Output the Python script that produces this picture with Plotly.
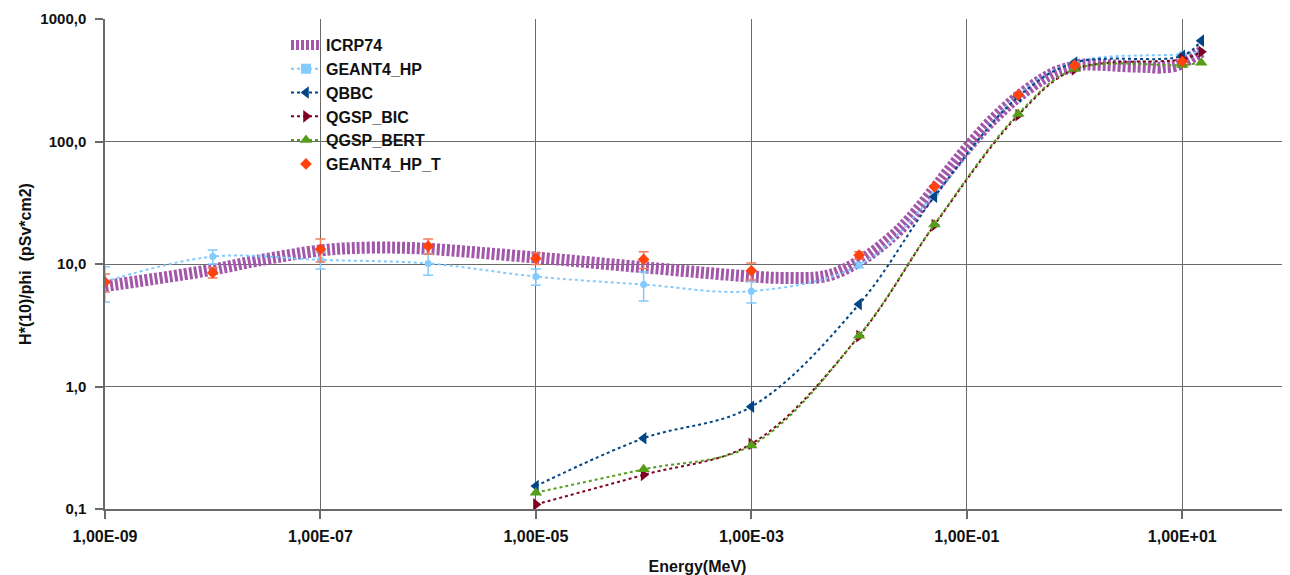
import plotly.graph_objects as go

# ---------------- data ----------------
icrp_E = [1e-9, 1e-8, 2.53e-8, 1e-7, 2e-7, 5e-7, 1e-6, 1e-5, 1e-4, 1e-3, 2e-3, 5e-3,
          1e-2, 2e-2, 3e-2, 5e-2, 7e-2, 0.1, 0.15, 0.2, 0.3, 0.5, 0.7, 0.9, 1.0, 1.2,
          2.0, 3.0, 4.0, 5.0, 6.0, 7.0, 8.0, 9.0, 10.0, 12.0, 14.0, 15.0]
icrp_H = [6.6, 9.0, 10.6, 12.9, 13.5, 13.6, 13.3, 11.3, 9.4, 7.9, 7.7, 8.0,
          10.5, 16.6, 23.7, 41.1, 60.0, 88.0, 132, 170, 233, 322, 375, 400, 416, 425,
          420, 412, 408, 405, 400, 405, 409, 420, 440, 480, 520, 540]

hp_E = [1e-9, 1e-8, 1e-7, 1e-6, 1e-5, 1e-4, 1e-3, 1e-2, 5e-2, 0.3, 1.0, 10.0, 15.0]
hp_H = [7.2, 11.5, 10.8, 10.1, 7.9, 6.8, 6.0, 9.8, 37, 240, 445, 515, 540]
hp_err = [2.3, 1.5, 1.7, 2.0, 1.2, 1.8, 1.2, 0.5, 0, 0, 0, 0, 0]

g4_E = [1e-5, 1e-4, 1e-3, 1e-2, 5e-2, 0.3, 1.0, 10.0, 15.0]
qbbc_H = [0.154, 0.378, 0.684, 4.7, 35.4, 232, 440, 500, 665]
bic_H = [0.109, 0.19, 0.34, 2.58, 20.8, 164, 388, 470, 540]
bert_H = [0.136, 0.211, 0.33, 2.6, 21.0, 168, 390, 421, 440]

hpt_E = [1e-9, 1e-8, 1e-7, 1e-6, 1e-5, 1e-4, 1e-3, 1e-2, 5e-2, 0.3, 1.0, 10.0]
hpt_H = [7.1, 8.5, 13.2, 14.0, 11.1, 10.9, 8.8, 11.8, 42.8, 240, 420, 450]
hpt_err = [1.2, 0.8, 2.8, 2.0, 1.2, 1.7, 1.4, 0.8, 0, 0, 0, 0]

x_tickvals = [1e-9, 1e-7, 1e-5, 1e-3, 1e-1, 1e1]
x_ticktext = ["1,00E-09", "1,00E-07", "1,00E-05", "1,00E-03", "1,00E-01", "1,00E+01"]
y_tickvals = [0.1, 1, 10, 100, 1000]
y_ticktext = ["0,1", "1,0", "10,0", "100,0", "1000,0"]

# ---------------- styles ----------------
C_ICRP = "#a257aa"
C_HP = "#83caff"
C_QBBC = "#004586"
C_BIC = "#7e0021"
C_BERT = "#579d1c"
C_HPT = "#ff420e"
FONT = "Liberation Sans"

fig = go.Figure()

fig.add_trace(go.Scatter(
    x=icrp_E, y=icrp_H, name="ICRP74", mode="lines",
    line=dict(color=C_ICRP, width=12, dash="3px,2px", shape="spline"),
    legendrank=1))

fig.add_trace(go.Scatter(
    x=hp_E, y=hp_H, name="GEANT4_HP", mode="lines+markers", showlegend=False,
    line=dict(color=C_HP, width=2, dash="dot", shape="spline"),
    marker=dict(color=C_HP, size=7, symbol="circle"),
    error_y=dict(type="data", array=hp_err, color=C_HP, thickness=1.5, width=5)))
fig.add_trace(go.Scatter(
    x=[None], y=[None], name="GEANT4_HP", mode="lines+markers",
    line=dict(color=C_HP, width=2, dash="dot"),
    marker=dict(color=C_HP, size=10, symbol="square"), legendrank=2))

fig.add_trace(go.Scatter(
    x=g4_E, y=qbbc_H, name="QBBC", mode="lines+markers",
    line=dict(color=C_QBBC, width=2, dash="dot", shape="spline"),
    marker=dict(color=C_QBBC, size=11, symbol="triangle-left"), legendrank=3))

fig.add_trace(go.Scatter(
    x=g4_E, y=bic_H, name="QGSP_BIC", mode="lines+markers",
    line=dict(color=C_BIC, width=2, dash="dot", shape="spline"),
    marker=dict(color=C_BIC, size=11, symbol="triangle-right"), legendrank=4))

fig.add_trace(go.Scatter(
    x=g4_E, y=bert_H, name="QGSP_BERT", mode="lines+markers",
    line=dict(color=C_BERT, width=2, dash="dot", shape="spline"),
    marker=dict(color=C_BERT, size=11, symbol="triangle-up"), legendrank=5))

fig.add_trace(go.Scatter(
    x=hpt_E, y=hpt_H, name="GEANT4_HP_T", mode="markers",
    marker=dict(color=C_HPT, size=9, symbol="diamond"),
    error_y=dict(type="data", array=hpt_err, color="#f47a5c", thickness=1.5, width=5),
    legendrank=6))

axis_common = dict(
    showline=True, linecolor="#6a6a6a", linewidth=1.5,
    showgrid=True, gridcolor="#6a6a6a", gridwidth=1.3,
    ticks="outside", ticklen=8, tickcolor="#6a6a6a", tickwidth=1.5,
    zeroline=False,
)

fig.update_xaxes(
    type="log", range=[-9, 2], tickvals=x_tickvals, ticktext=x_ticktext,
    tickfont=dict(family=FONT, size=16, color="#111", weight="bold"),
    ticklabelstandoff=4,
    title=dict(text="Energy(MeV)", font=dict(family=FONT, size=16, color="#111", weight="bold"),
               standoff=17),
    **axis_common)
fig.update_yaxes(
    type="log", range=[-1, 3], tickvals=y_tickvals, ticktext=y_ticktext,
    tickfont=dict(family=FONT, size=15, color="#111", weight="bold"),
    ticklabelstandoff=6,
    title=dict(text="H*(10)/phi  (pSv*cm2)", font=dict(family=FONT, size=16, color="#111", weight="bold"),
               standoff=5),
    **axis_common)

# page body has an 8px margin, so the figure is sized and offset to compensate
fig.update_layout(
    width=1282, height=567,
    margin=dict(l=97, r=0, t=11, b=66),
    plot_bgcolor="white", paper_bgcolor="white",
    legend=dict(x=(286 - 105) / 1185, y=(509 - 28) / 490, xanchor="left", yanchor="top",
                bgcolor="rgba(0,0,0,0)", borderwidth=0,
                font=dict(family=FONT, size=16, color="#111", weight="bold")),
)

fig.write_html("out.html")
